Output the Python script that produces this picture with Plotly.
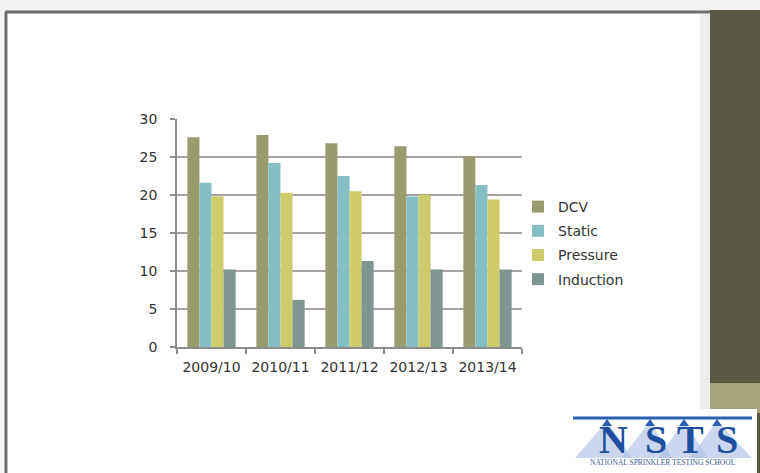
import plotly.graph_objects as go

years = ["2009/10", "2010/11", "2011/12", "2012/13", "2013/14"]
dcv = [27.6, 27.9, 26.8, 26.4, 25.1]
static = [21.6, 24.2, 22.5, 19.8, 21.3]
pressure = [19.8, 20.3, 20.5, 20.0, 19.4]
induction = [10.2, 6.2, 11.3, 10.2, 10.2]

series_names = ["DCV", "Static", "Pressure", "Induction"]
series_values = [dcv, static, pressure, induction]
series_colors = ["#9b9b70", "#85bfc3", "#cdcb6a", "#7e9591"]

W, H = 760, 473
L, R, T, B = 177, 522, 119, 347

fig = go.Figure()
for i, (name, vals, col) in enumerate(zip(series_names, series_values, series_colors)):
    fig.add_trace(go.Bar(
        x=years, y=vals, name=name, marker=dict(color=col, line=dict(width=0)),
        legendgroup=name,
    ))

txt = "#333333"
font_main = "DejaVu Sans"

shapes = []
# slide outer area
shapes.append(dict(type="rect", xref="paper", yref="paper", x0=-2, x1=3, y0=-1, y1=2,
                   fillcolor="#f4f4f4", line=dict(width=0), layer="below"))

def px(x):
    return (x - L) / (R - L)

def py(y):
    return (B - y) / (B - T)

# slide background
shapes.append(dict(type="rect", xref="paper", yref="paper", x0=px(6), x1=px(712), y0=py(474), y1=py(12),
                   fillcolor="#ffffff", line=dict(width=0), layer="below"))
# right dark panel
shapes.append(dict(type="rect", xref="paper", yref="paper", x0=px(710), x1=px(761), y0=py(474), y1=py(10),
                   fillcolor="#5a5842", line=dict(width=0), layer="above"))
shapes.append(dict(type="rect", xref="paper", yref="paper", x0=px(700), x1=px(710), y0=py(474), y1=py(14),
                   fillcolor="#ededed", line=dict(width=0), layer="below"))
shapes.append(dict(type="rect", xref="paper", yref="paper", x0=px(710), x1=px(761), y0=py(413), y1=py(383),
                   fillcolor="#a6a47c", line=dict(width=0), layer="above"))
# slide border lines
shapes.append(dict(type="line", xref="paper", yref="paper", x0=px(6), x1=px(6), y0=py(474), y1=py(12),
                   line=dict(color="#6e6e6e", width=3), layer="above"))
shapes.append(dict(type="line", xref="paper", yref="paper", x0=px(5), x1=px(710), y0=py(12), y1=py(12),
                   line=dict(color="#6e6e6e", width=3), layer="above"))
# logo background
shapes.append(dict(type="rect", xref="paper", yref="paper", x0=px(570), x1=px(757), y0=py(474), y1=py(409),
                   fillcolor="#ffffff", line=dict(width=0), layer="above"))
# spray fans
for fx0, fx1, hx in [(575, 632, 607), (622, 672, 650), (658, 708, 684), (690, 752, 717)]:
    shapes.append(dict(type="path", xref="paper", yref="paper",
                       path="M {},{} L {},{} L {},{} Z".format(px(fx0), py(458), px(hx), py(421),
                                                              px(fx1), py(458)),
                       fillcolor="rgba(170,188,228,0.6)", line=dict(width=0), layer="above"))
# pipe line
shapes.append(dict(type="line", xref="paper", yref="paper", x0=px(573), x1=px(752), y0=py(418), y1=py(418),
                   line=dict(color="#2f5fb5", width=3), layer="above"))
for hx in [607, 650, 684, 717]:
    shapes.append(dict(type="path", xref="paper", yref="paper",
                       path="M {},{} L {},{} L {},{} Z".format(px(hx - 5), py(426), px(hx + 5), py(426), px(hx), py(419)),
                       fillcolor="#2f5fb5", line=dict(width=0), layer="above"))

annotations = []
for letter, lx in zip(["N", "S", "T", "S"], [613, 656, 690, 727]):
    annotations.append(dict(text="<b>" + letter + "</b>", x=px(lx), y=py(439), xref="paper", yref="paper",
                            showarrow=False, font=dict(family="Liberation Serif", size=40, color="#1f4f9e"),
                            xanchor="center", yanchor="middle"))
annotations.append(dict(text="NATIONAL SPRINKLER TESTING SCHOOL", x=px(663), y=py(462), xref="paper", yref="paper",
                        showarrow=False, font=dict(family="Liberation Serif", size=7.5, color="#3a5a9a"),
                        xanchor="center", yanchor="middle"))

fig.update_layout(
    width=W, height=H,
    margin=dict(l=L, r=W - R, t=T, b=H - B, pad=0),
    paper_bgcolor="#ffffff", plot_bgcolor="rgba(0,0,0,0)",
    barmode="group", bargap=0.30, bargroupgap=0,
    showlegend=True,
    legend=dict(x=px(518), y=py(243), xanchor="left", yanchor="middle",
                font=dict(family=font_main, size=14, color=txt),
                bgcolor="rgba(0,0,0,0)", tracegroupgap=3, traceorder="grouped"),
    xaxis=dict(showline=True, linecolor="#8c8c8c", linewidth=1.5, ticks="outside", tickson="boundaries",
               ticklen=5, tickcolor="#8c8c8c", tickwidth=1.5,
               tickfont=dict(family=font_main, size=14, color=txt), ticklabelstandoff=6, showgrid=False),
    yaxis=dict(range=[0, 30], dtick=5, showgrid=True, gridcolor="#aaa2a1", gridwidth=1.5,
               zeroline=False, showline=True, linecolor="#8c8c8c", linewidth=1.5,
               ticks="outside", ticklen=5, tickcolor="#8c8c8c", tickwidth=1.5,
               tickfont=dict(family=font_main, size=14, color=txt), ticklabelstandoff=10),
    shapes=shapes, annotations=annotations,
    font=dict(family=font_main),
)

fig.write_html("out.html", config={"displayModeBar": False},
               post_script="document.body.style.margin='0';document.body.style.overflow='hidden';")
